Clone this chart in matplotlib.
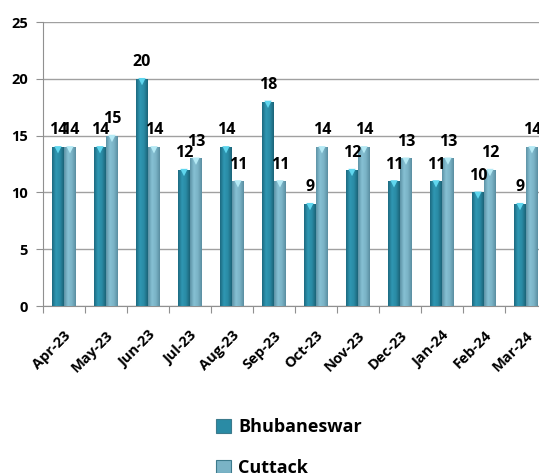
import matplotlib
matplotlib.use("Agg")
import matplotlib.pyplot as plt
import matplotlib.transforms as mtransforms
import numpy as np
from matplotlib.colors import LinearSegmentedColormap

months = ["Apr-23", "May-23", "Jun-23", "Jul-23", "Aug-23", "Sep-23",
          "Oct-23", "Nov-23", "Dec-23", "Jan-24", "Feb-24", "Mar-24"]
bhubaneswar = [14, 14, 20, 12, 14, 18, 9, 12, 11, 11, 10, 9]
cuttack = [14, 15, 14, 13, 11, 11, 14, 14, 13, 13, 12, 14]
yticks = [0, 5, 10, 15, 20, 25]

FONT = "Open Sans"
fig = plt.figure(figsize=(5.39, 4.73), dpi=100)
ax = fig.add_axes([43/539, 167/473, 504/539, 284/473])

x = np.arange(len(months))
w = 0.285

cmap_b = LinearSegmentedColormap.from_list("b", ["#1d6a80", "#2f97b2", "#2a8ba5", "#1b6378"])
cmap_c = LinearSegmentedColormap.from_list("c", ["#5d93a6", "#86c0d3", "#7ab3c6", "#5a8ea1"])
grad = np.linspace(0, 1, 64).reshape(1, -1)

def draw(xs, vals, cmap, top_col, base_col):
    bars = ax.bar(xs, vals, width=w, color=base_col, edgecolor="none", zorder=3)
    for b in bars:
        x0, y0 = b.get_x(), b.get_y()
        bw, bh = b.get_width(), b.get_height()
        im = ax.imshow(grad, cmap=cmap, aspect="auto",
                       extent=[x0, x0 + bw, y0, y0 + bh], zorder=4)
        im.set_clip_path(b)
    ax.scatter(xs, np.array(vals) - 0.25, marker="v", s=28, color=top_col,
               edgecolors="none", zorder=5)
    return bars

b1 = draw(x - w/2, bhubaneswar, cmap_b, "#5fd6ee", "#2a8ba5")
b2 = draw(x + w/2, cuttack, cmap_c, "#b5eaf5", "#7ab3c6")

for xi, v in zip(x - w/2, bhubaneswar):
    ax.text(xi, v + 0.75, str(v), ha="center", va="bottom", fontsize=11.5,
            fontweight="bold", family=FONT, zorder=6)
for xi, v in zip(x + w/2, cuttack):
    ax.text(xi, v + 0.75, str(v), ha="center", va="bottom", fontsize=11.5,
            fontweight="bold", family=FONT, zorder=6)

ax.set_xlim(-0.5, len(months) - 0.5)
ax.set_ylim(0, 25)
ax.set_yticks(yticks)
ax.set_yticklabels([str(t) for t in yticks], fontsize=10.5, fontweight="bold", family=FONT)
ax.yaxis.grid(True, color="#a0a0a0", linewidth=1.0, zorder=0)
ax.set_axisbelow(True)
ax.set_xticks(np.arange(len(months) + 1) - 0.5, minor=False)
ax.set_xticklabels([""] * (len(months) + 1))
ax.set_xticks(x, minor=True)
ax.set_xticklabels(months, minor=True, rotation=45, ha="right", rotation_mode="anchor",
                   fontsize=10.5, fontweight="bold", family=FONT)
offset = mtransforms.ScaledTranslation(5/100, 0, fig.dpi_scale_trans)
for lbl in ax.get_xticklabels(minor=True):
    lbl.set_transform(lbl.get_transform() + offset)
ax.tick_params(axis="x", which="minor", length=0, pad=16)
ax.tick_params(axis="x", which="major", length=5, color="#909090", direction="out")
ax.tick_params(axis="y", length=5, color="#909090", pad=6)
for s in ["top", "right"]:
    ax.spines[s].set_visible(False)
ax.spines["left"].set_color("#909090")
ax.spines["bottom"].set_color("#909090")

leg = fig.legend([b1, b2], ["Bhubaneswar", "Cuttack"], loc="upper left",
                 bbox_to_anchor=(200/539, 1 - 402/473), frameon=False,
                 prop={"family": FONT, "weight": "bold", "size": 13},
                 handlelength=0.8, handleheight=0.8, handletextpad=0.4,
                 labelspacing=1.25)
for h in leg.legend_handles:
    h.set_edgecolor("#3c7a8c")
    h.set_linewidth(0.8)

fig.savefig("out.png", dpi=100)
